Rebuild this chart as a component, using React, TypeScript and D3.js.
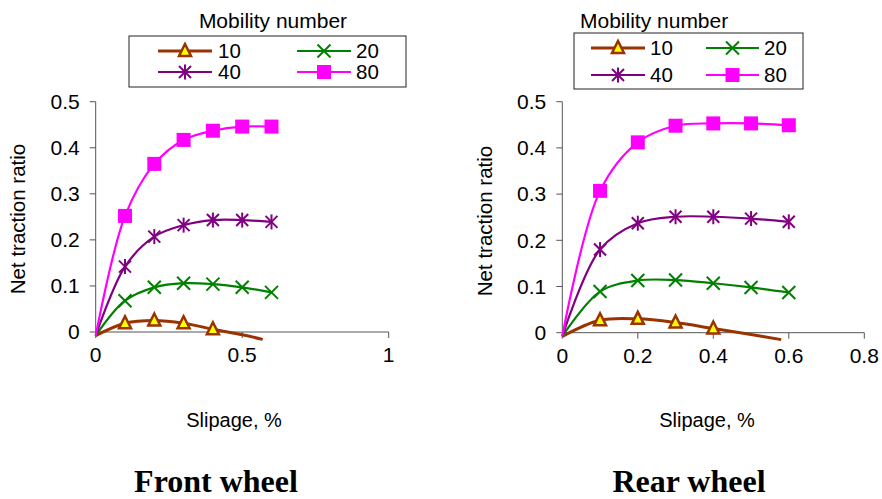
import React from "react";
import * as d3 from "d3";

const slip = [0.1, 0.2, 0.3, 0.4, 0.5, 0.6];
const seriesNames = ["10", "20", "40", "80"];
const colors = ["#993300", "#008000", "#800080", "#FF00FF"];

// Front wheel
const front10 = [0.019, 0.025, 0.019, 0.006];
const front20 = [0.068, 0.097, 0.106, 0.104, 0.097, 0.086];
const front40 = [0.142, 0.207, 0.232, 0.243, 0.243, 0.239];
const front80 = [0.252, 0.365, 0.417, 0.437, 0.446, 0.446];
const front10Tail = [[0.5, -0.006], [0.57, -0.016]];

// Rear wheel
const rear10 = [0.027, 0.03, 0.022, 0.009];
const rear20 = [0.089, 0.113, 0.114, 0.107, 0.098, 0.087];
const rear40 = [0.18, 0.237, 0.251, 0.251, 0.247, 0.24];
const rear80 = [0.307, 0.412, 0.448, 0.453, 0.453, 0.449];
const rear10Tail = [[0.5, -0.004], [0.58, -0.015]];

const lineStart: [number, number] = [0, -0.008];

const frontXTicks = [0, 0.5, 1];
const rearXTicks = [0, 0.2, 0.4, 0.6, 0.8];
const yTicks = [0, 0.1, 0.2, 0.3, 0.4, 0.5];

const FONT = "'Liberation Sans', Arial, sans-serif";
const AXIS = "#555";

function Marker({ kind, x, y }: { kind: number; x: number; y: number }) {
  const c = colors[kind];
  if (kind === 0) {
    return (
      <polygon
        points={`${x},${y - 7} ${x + 6},${y + 5} ${x - 6},${y + 5}`}
        fill="#FFFF00"
        stroke={c}
        strokeWidth={2.5}
        strokeLinejoin="miter"
      />
    );
  }
  if (kind === 1) {
    const s = 6.5;
    return (
      <g stroke={c} strokeWidth={2}>
        <line x1={x - s} y1={y - s} x2={x + s} y2={y + s} />
        <line x1={x - s} y1={y + s} x2={x + s} y2={y - s} />
      </g>
    );
  }
  if (kind === 2) {
    const s = 6;
    return (
      <g stroke={c} strokeWidth={2}>
        <line x1={x - s} y1={y - s} x2={x + s} y2={y + s} />
        <line x1={x - s} y1={y + s} x2={x + s} y2={y - s} />
        <line x1={x} y1={y - s - 1.5} x2={x} y2={y + s + 1.5} />
      </g>
    );
  }
  const s = 7;
  return <rect x={x - s} y={y - s} width={2 * s} height={2 * s} fill={c} />;
}

type PanelProps = {
  x0: number;
  x1: number;
  xMax: number;
  y0: number;
  y1: number;
  xTicks: number[];
  data: number[][];
  tail: number[][];
  title: string;
  xLabelX: number;
  yLabelX: number;
  yLabelY: number;
  legend: { box: [number, number, number, number]; titleX: number; titleAnchor: string; rows: number[]; cols: number[][] };
};

function Panel(p: PanelProps) {
  const xs = d3.scaleLinear().domain([0, p.xMax]).range([p.x0, p.x1]);
  const ys = d3.scaleLinear().domain([0, 0.5]).range([p.y0, p.y1]);
  const line = d3
    .line<number[]>()
    .x((d) => xs(d[0]))
    .y((d) => ys(d[1]))
    .curve(d3.curveCatmullRom.alpha(0.5));
  const fmt = (v: number) => (v === 0 ? "0" : String(v));
  const [bx, by, bw, bh] = p.legend.box;
  return (
    <g>
      {/* axes */}
      <line x1={xs(0)} x2={xs(0)} y1={ys(0)} y2={ys(0.5)} stroke={AXIS} strokeWidth={1} />
      <line x1={xs(0)} x2={xs(p.xMax)} y1={ys(0)} y2={ys(0)} stroke={AXIS} strokeWidth={1} />
      {yTicks.map((t) => (
        <g key={"y" + t}>
          <line x1={xs(0) - 6} x2={xs(0)} y1={ys(t)} y2={ys(t)} stroke={AXIS} />
          <text x={xs(0) - 16} y={ys(t)} dy="0.35em" textAnchor="end" fontSize={21} fontFamily={FONT} fill="#000">
            {fmt(t)}
          </text>
        </g>
      ))}
      {p.xTicks.map((t) => (
        <g key={"x" + t}>
          <line x1={xs(t)} x2={xs(t)} y1={ys(0)} y2={ys(0) + 6} stroke={AXIS} />
          <text x={xs(t)} y={ys(0) + 23} dy="0.35em" textAnchor="middle" fontSize={21} fontFamily={FONT} fill="#000">
            {fmt(t)}
          </text>
        </g>
      ))}
      <text x={p.xLabelX} y={420} dy="0.35em" textAnchor="middle" fontSize={20} fontFamily={FONT}>
        Slipage, %
      </text>
      <text
        transform={`translate(${p.yLabelX},${p.yLabelY}) rotate(-90)`}
        dy="0.35em"
        textAnchor="middle"
        fontSize={20.5}
        fontFamily={FONT}
      >
        Net traction ratio
      </text>
      {/* lines */}
      {p.data.map((vals, i) => {
        const pts: number[][] = [lineStart, ...vals.map((v, j) => [slip[j], v])];
        if (i === 0) pts.push(...p.tail);
        return (
          <path key={"l" + i} d={line(pts) || ""} fill="none" stroke={colors[i]} strokeWidth={i === 0 ? 3 : 2.2} />
        );
      })}
      {/* markers */}
      {p.data.map((vals, i) =>
        vals.map((v, j) => <Marker key={`m${i}-${j}`} kind={i} x={xs(slip[j])} y={ys(v)} />)
      )}
      {/* legend */}
      <text x={p.legend.titleX} y={21} dy="0.35em" textAnchor={p.legend.titleAnchor as any} fontSize={21} fontFamily={FONT}>
        Mobility number
      </text>
      <rect x={bx} y={by} width={bw} height={bh} fill="white" stroke="#222" strokeWidth={1} />
      {seriesNames.map((n, i) => {
        const row = p.legend.rows[Math.floor(i / 2)];
        const [lx1, lx2, tx] = p.legend.cols[i % 2];
        return (
          <g key={"lg" + n}>
            <line x1={lx1} x2={lx2} y1={row} y2={row} stroke={colors[i]} strokeWidth={i === 0 ? 3 : 2.2} />
            <Marker kind={i} x={(lx1 + lx2) / 2} y={row} />
            <text x={tx} y={row} dy="0.35em" fontSize={20.5} fontFamily={FONT}>
              {n}
            </text>
          </g>
        );
      })}
      <text
        x={p.xLabelX - 18}
        y={481}
        dy="0.35em"
        textAnchor="middle"
        fontSize={32}
        fontWeight="bold"
        fontFamily="'Liberation Serif', 'Times New Roman', serif"
      >
        {p.title}
      </text>
    </g>
  );
}

export default function App() {
  return (
    <svg width={882} height={499} style={{ position: "absolute", left: 0, top: 0, background: "white" }}>
      <rect width={882} height={499} fill="white" />
      <Panel
        x0={95.7}
        x1={388.7}
        xMax={1}
        y0={332}
        y1={101.7}
        xTicks={frontXTicks}
        data={[front10, front20, front40, front80]}
        tail={front10Tail}
        title="Front wheel"
        xLabelX={234}
        yLabelX={17.5}
        yLabelY={219}
        legend={{
          box: [129, 36, 277, 51],
          titleX: 273,
          titleAnchor: "middle",
          rows: [51, 72],
          cols: [
            [158, 212, 218],
            [297, 351, 356],
          ],
        }}
      />
      <Panel
        x0={562.3}
        x1={864.3}
        xMax={0.8}
        y0={332.7}
        y1={101.7}
        xTicks={rearXTicks}
        data={[rear10, rear20, rear40, rear80]}
        tail={rear10Tail}
        title="Rear wheel"
        xLabelX={707}
        yLabelX={485}
        yLabelY={221}
        legend={{
          box: [574, 33, 229, 56],
          titleX: 580,
          titleAnchor: "start",
          rows: [48, 75],
          cols: [
            [591, 645, 650],
            [706, 759, 764],
          ],
        }}
      />
    </svg>
  );
}
